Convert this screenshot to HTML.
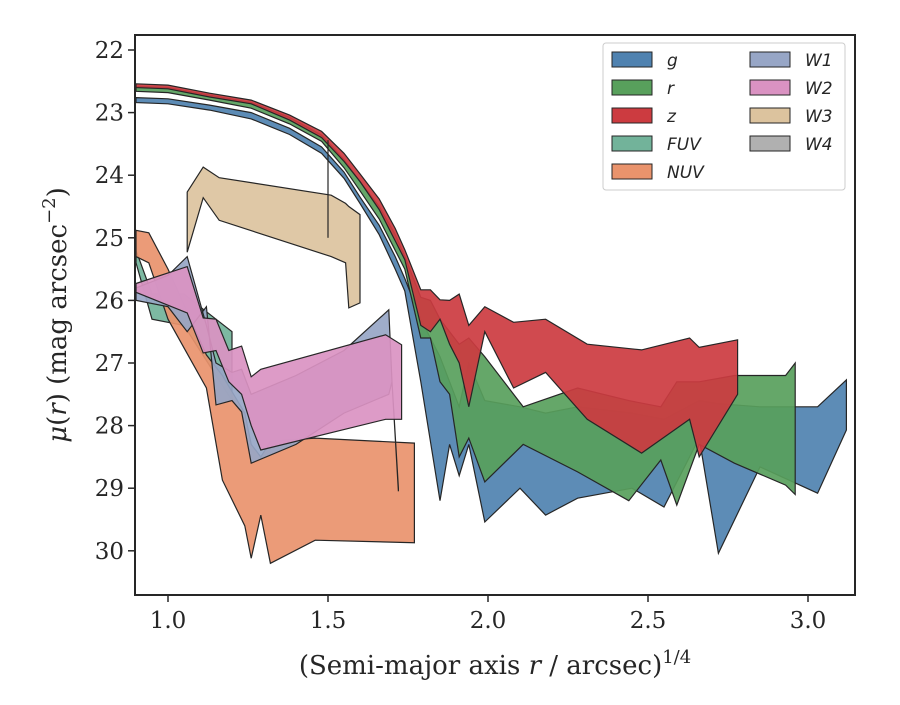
<!DOCTYPE html>
<html><head><meta charset="utf-8"><style>
body{margin:0;background:#fff}
svg text{font-family:"DejaVu Serif","Liberation Serif",serif;fill:#262626}
</style></head><body>
<svg id="chart" width="900" height="700">
<g id="bands"></g>
<g id="axes"></g>
<g id="legend"></g>
</svg>
<script>
const xTicks=[1.0,1.5,2.0,2.5,3.0];
const xTickLabels=["1.0","1.5","2.0","2.5","3.0"];
const yTicks=[22,23,24,25,26,27,28,29,30];
const yTickLabels=["22","23","24","25","26","27","28","29","30"];
const bandNames=["g","r","z","FUV","NUV","W1","W2","W3","W4"];
const gX=[0.9,1.0,1.13,1.26,1.38,1.48,1.55,1.6,1.66,1.71,1.74,1.79,1.85,1.88,1.91,1.94,1.99,2.1,2.18,2.28,2.45,2.55,2.66,2.72,2.85,3.03,3.12];
const gUp=[22.76,22.78,22.88,23.0,23.25,23.55,23.95,24.35,24.8,25.3,25.65,26.3,26.9,27.3,27.7,27.0,27.6,27.7,27.8,27.7,27.8,27.9,27.6,27.65,27.7,27.7,27.27];
const gLo=[22.84,22.86,22.96,23.1,23.35,23.65,24.05,24.45,24.95,25.5,25.85,27.3,29.2,28.3,28.8,28.3,29.54,29.0,29.43,29.16,29.0,29.3,28.2,30.04,28.66,29.08,28.07];
const rX=[0.9,1.0,1.13,1.26,1.38,1.48,1.55,1.6,1.66,1.71,1.74,1.79,1.82,1.85,1.88,1.91,1.94,1.99,2.11,2.28,2.44,2.54,2.59,2.66,2.77,2.93,2.96];
const rUp=[22.58,22.6,22.72,22.84,23.08,23.36,23.75,24.1,24.5,24.95,25.3,25.95,26.0,26.3,26.5,26.7,26.6,26.9,27.7,27.4,27.6,27.7,27.3,27.3,27.2,27.2,27.0];
const rLo=[22.66,22.68,22.8,22.93,23.18,23.46,23.88,24.25,24.7,25.2,25.5,26.6,26.6,27.3,27.5,28.5,28.2,28.9,28.3,28.74,29.2,28.55,29.27,28.3,28.6,28.95,29.1];
const zX=[0.9,1.0,1.13,1.26,1.38,1.48,1.55,1.6,1.66,1.71,1.74,1.79,1.82,1.85,1.88,1.91,1.94,1.99,2.08,2.18,2.31,2.48,2.63,2.66,2.78];
const zUp=[22.54,22.56,22.69,22.8,23.04,23.3,23.65,23.98,24.38,24.85,25.19,25.83,25.83,25.99,26.0,25.9,26.4,26.1,26.35,26.3,26.7,26.79,26.6,26.75,26.63];
const zLo=[22.6,22.62,22.75,22.86,23.12,23.4,23.78,24.1,24.55,25.05,25.35,26.4,26.5,26.3,26.7,27.0,27.7,26.5,27.4,27.15,27.9,28.44,27.9,28.5,27.5];
const fuvX=[0.9,0.95,1.05,1.1,1.15,1.2];
const fuvUp=[25.2,25.9,25.9,26.1,26.3,26.5];
const fuvLo=[25.4,26.3,26.4,26.8,27.2,27.6];
const nuvX=[0.9,0.94,1.0,1.12,1.17,1.24,1.26,1.29,1.32,1.46,1.77];
const nuvUp=[24.88,24.92,25.5,26.87,27.2,27.8,28.3,28.5,28.25,28.2,28.28];
const nuvLo=[25.3,25.4,26.3,27.4,28.87,29.6,30.12,29.43,30.2,29.83,29.87];
const w1X=[0.9,1.0,1.06,1.12,1.15,1.2,1.23,1.26,1.4,1.55,1.69,1.7,1.72];
const w1Up=[25.8,25.6,25.3,26.4,27.0,27.15,27.1,27.5,27.2,26.8,26.15,27.3,29.0];
const w1Lo=[26.0,26.1,26.5,26.1,27.67,27.6,27.78,28.6,28.3,27.8,27.5,27.3,29.05];
const w2X=[0.9,1.06,1.11,1.15,1.19,1.23,1.26,1.29,1.68,1.73];
const w2Up=[25.73,25.46,26.28,26.3,26.8,26.73,27.22,27.1,26.55,26.71];
const w2Lo=[25.87,26.2,26.84,26.8,27.3,27.5,28.0,28.39,27.9,27.9];
const w3X=[1.06,1.11,1.16,1.51,1.555,1.565,1.6];
const w3Up=[24.27,23.87,24.04,24.32,24.45,24.5,24.63];
const w3Lo=[25.23,24.36,24.72,25.3,25.4,26.12,26.04];
const w4X=[1.5];
const w4Up=[23.44];
const w4Lo=[25.0];

const NS="http://www.w3.org/2000/svg";
const L=135,R=855,T=35,B=595;
function X(v){return 168+(v-1)*320;}
function Y(v){return 50+(v-22)*62.6;}
function mk(tag,attrs,parent){const e=document.createElementNS(NS,tag);for(const k in attrs)e.setAttribute(k,attrs[k]);parent.appendChild(e);return e;}
const bands=document.getElementById('bands'),axes=document.getElementById('axes'),leg=document.getElementById('legend');
const colors=["#4f82b0","#58a05c","#cc3b40","#72b39a","#e9936c","#97a6c6","#da92c2","#dcc39e","#b0b0b0"];
const series=[[gX,gUp,gLo],[rX,rUp,rLo],[zX,zUp,zLo],[fuvX,fuvUp,fuvLo],[nuvX,nuvUp,nuvLo],[w1X,w1Up,w1Lo],[w2X,w2Up,w2Lo],[w3X,w3Up,w3Lo]];
series.forEach((s,i)=>{
  const [xs,up,lo]=s;let pts=[];
  for(let j=0;j<xs.length;j++)pts.push(X(xs[j]).toFixed(1)+","+Y(up[j]).toFixed(1));
  for(let j=xs.length-1;j>=0;j--)pts.push(X(xs[j]).toFixed(1)+","+Y(lo[j]).toFixed(1));
  const p=mk('polygon',{points:pts.join(" "),fill:colors[i],'fill-opacity':0.92,stroke:"#262626",'stroke-width':1.2,'stroke-linejoin':'miter'},bands);
  
  
});
for(let j=0;j<w4X.length;j++){
  const l=mk('line',{x1:X(w4X[j]),x2:X(w4X[j]),y1:Y(w4Up[j]),y2:Y(w4Lo[j]),stroke:"#262626",'stroke-width':1.2},bands);
  
  
}
const fr=mk('rect',{x:L,y:T,width:R-L,height:B-T,fill:'none',stroke:'#262626','stroke-width':2},axes);


xTicks.forEach((v,i)=>{
  mk('line',{x1:X(v),x2:X(v),y1:B,y2:B+7,stroke:'#262626','stroke-width':1.5},axes);
  const t=mk('text',{x:X(v),y:B+33,'text-anchor':'middle','font-size':23},axes);t.textContent=xTickLabels[i];
  
  
});
yTicks.forEach((v,i)=>{
  mk('line',{x1:L-7,x2:L,y1:Y(v),y2:Y(v),stroke:'#262626','stroke-width':1.5},axes);
  const t=mk('text',{x:L-11,y:Y(v)+8,'text-anchor':'end','font-size':23},axes);t.textContent=yTickLabels[i];
  
  
});
const xl=mk('text',{x:495,y:674,'text-anchor':'middle','font-size':26},axes);
xl.innerHTML='(Semi-major axis <tspan font-style="italic">r</tspan> / arcsec)<tspan dy="-11" font-size="18">1/4</tspan>';


const yl=mk('text',{x:0,y:0,'text-anchor':'middle','font-size':26,transform:'translate(66,315) rotate(-90)'},axes);
yl.innerHTML='<tspan font-style="italic">μ</tspan>(<tspan font-style="italic">r</tspan>) (mag arcsec<tspan dy="-11" font-size="18">−2</tspan><tspan dy="11">)</tspan>';


const lb=mk('rect',{x:603,y:43,width:242,height:147,rx:3,fill:'#fff','fill-opacity':0.85,stroke:'#cccccc'},leg);


bandNames.forEach((n,i)=>{
  const col=i<5?0:1,row=i<5?i:i-5;
  const px=col?750:612,py=52+row*28;
  const g=mk('g',{},leg);
  
  
  mk('rect',{x:px,y:py,width:40,height:15,fill:colors[i],stroke:'#262626','stroke-width':1},g);
  const t=mk('text',{x:px+55,y:py+14,'font-size':17,'font-style':'italic',style:'font-family:"DejaVu Sans","Liberation Sans",sans-serif'},g);
  t.textContent=n;
});
</script>
</body></html>
